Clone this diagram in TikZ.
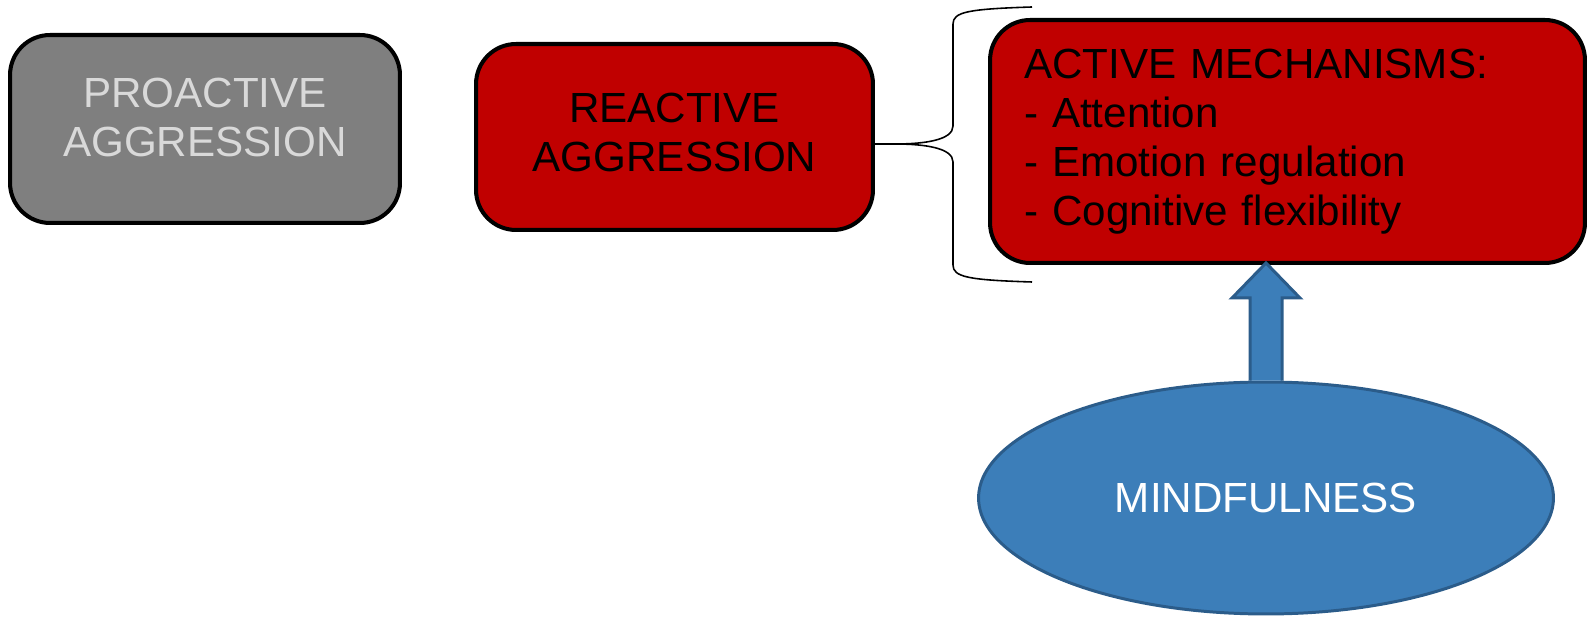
\documentclass[tikz,border=0pt]{standalone}
\usepackage{fontspec}
\setmainfont{Liberation Sans}
\usepackage{xcolor}
\usetikzlibrary{positioning,shapes.geometric,calc}

\definecolor{boxred}{HTML}{C00000}
\definecolor{boxgray}{HTML}{7F7F7F}
\definecolor{txtgray}{HTML}{D9D9D9}
\definecolor{mindblue}{HTML}{3C7EB9}
\definecolor{mindedge}{HTML}{2B5C8A}

\begin{document}
\begin{tikzpicture}[x=0.02cm, y=-0.02cm,
  agg/.style={draw=black, line width=2.3pt, rounded corners=0.8cm, align=center,
    font=\fontsize{24}{27.9}\selectfont, inner sep=0pt},
  mech/.style={agg, align=left, text width=10.54cm, inner xsep=0.68cm},
  mind/.style={ellipse, draw=mindedge, line width=1.7pt, fill=mindblue,
    text=white, font=\fontsize{24}{27.9}\selectfont, inner sep=0pt},
  blk/.style={draw=mindedge, line width=1.7pt, fill=mindblue, line join=miter},
  brc/.style={draw=black, line width=0.9pt},
]
  \useasboundingbox (0,0) rectangle (1595,617);

  % Boxes: aggression types and mechanisms
  \node[agg, fill=boxgray, text=txtgray, minimum width=7.8cm, minimum height=3.76cm]
    (pro) at (205,129) {\raisebox{-0.09cm}[0pt][0pt]{\begin{tabular}{@{}c@{}}PROACTIVE\\AGGRESSION\end{tabular}}};
  \node[agg, fill=boxred, minimum width=7.94cm, minimum height=3.72cm]
    (rea) at (674.5,137) {\raisebox{-0.22cm}[0pt][0pt]{\begin{tabular}{@{}c@{}}REACTIVE\\AGGRESSION\end{tabular}}};
  \node[mech, fill=boxred, minimum height=4.86cm]
    (act) at (1287.5,141.5) {ACTIVE MECHANISMS:\\- Attention\\- Emotion regulation\\- Cognitive flexibility};

  % Mindfulness
  \node[mind, minimum width=11.5cm, minimum height=4.64cm] (ell) at (1266,498) {MINDFULNESS};

  % Brace from reactive box to the mechanisms
  \coordinate (bt) at (1032,7);
  \coordinate (bb) at (1032,282);
  \coordinate (bm) at ($(rea.east)+(0,7)$);
  \draw[brc] (bt) .. controls (968,9) and (953,12) .. (953,24) -- (953,126)
    .. controls (953,140) and (925,144) .. (895,144) -- (bm);
  \draw[brc] (bb) .. controls (968,280) and (953,277) .. (953,265) -- (953,162)
    .. controls (953,148) and (925,144) .. (895,144);

  % Block arrow: mindfulness acts on the mechanisms
  \coordinate (tip) at (act.south -| ell.north);
  \draw[blk] ($(ell.north)+(-16,0)$) -- ($(tip)+(-16,33)$) -- ($(tip)+(-34,33)$)
    -- ($(tip)+(0,-2)$) -- ($(tip)+(34,33)$) -- ($(tip)+(16,33)$) -- ($(ell.north)+(16,0)$);
\end{tikzpicture}
\end{document}
